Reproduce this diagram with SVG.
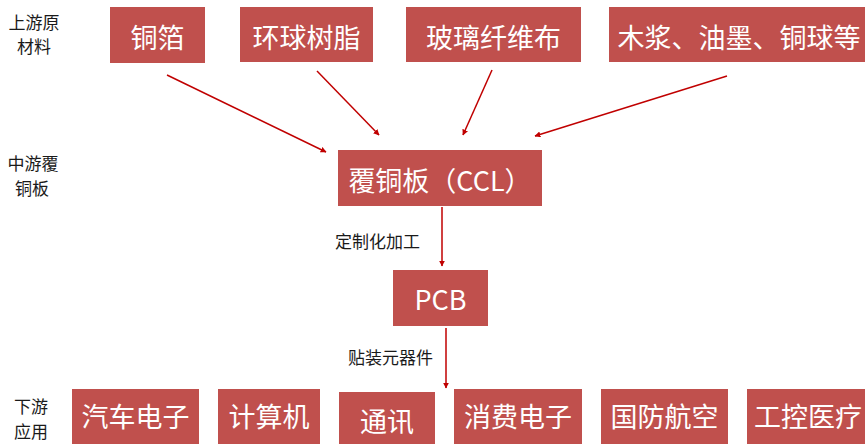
<svg xmlns="http://www.w3.org/2000/svg" width="865" height="444" viewBox="0 0 865 444">
<style>
.box{fill:#C0504D;}
.bt{fill:#ffffff;font-family:"Noto Sans CJK SC","Noto Sans",sans-serif;font-size:27px;text-anchor:middle;dominant-baseline:central;}
.lb{fill:#1a1a1a;font-family:"Noto Sans CJK SC","Noto Sans",sans-serif;font-size:17px;text-anchor:middle;dominant-baseline:central;}
.cl{fill:#1a1a1a;font-family:"Noto Sans CJK SC","Noto Sans",sans-serif;font-size:17px;dominant-baseline:central;}
.ar{stroke:#C00000;stroke-width:1.5;fill:none;marker-end:url(#ah);}
</style>
<defs>
<marker id="ah" viewBox="0 0 10 10" refX="9" refY="5" markerWidth="6" markerHeight="6" orient="auto" markerUnits="userSpaceOnUse">
<path d="M0,0 L10,5 L0,10 z" fill="#C00000"/>
</marker>
</defs>
<rect width="865" height="444" fill="#ffffff"/>
<g id="labels">
<text class="lb" x="34" y="21">上游原</text>
<text class="lb" x="34" y="45">材料</text>
<text class="lb" x="33" y="162">中游覆</text>
<text class="lb" x="32" y="187">铜板</text>
<text class="lb" x="31" y="405">下游</text>
<text class="lb" x="31" y="430">应用</text>
</g>
<g id="n-tongbo"><rect class="box" x="110" y="7" width="95" height="56"/><text class="bt" x="157.5" y="36">铜箔</text></g>
<g id="n-huanqiu"><rect class="box" x="240" y="7" width="133" height="55"/><text class="bt" x="306.5" y="36">环球树脂</text></g>
<g id="n-boli"><rect class="box" x="406" y="7" width="175" height="55"/><text class="bt" x="493.5" y="36">玻璃纤维布</text></g>
<g id="n-mujiang"><rect class="box" x="609" y="7" width="260" height="55"/><text class="bt" x="739" y="36">木浆、油墨、铜球等</text></g>
<g id="n-ccl"><rect class="box" x="338" y="150" width="204" height="56"/><text class="bt" x="440" y="179">覆铜板（CCL）</text></g>
<g id="n-pcb"><rect class="box" x="393" y="270" width="95" height="56"/><text class="bt" x="440.5" y="298">PCB</text></g>
<g id="n-qiche"><rect class="box" x="72" y="389" width="127" height="60"/><text class="bt" x="135.5" y="415">汽车电子</text></g>
<g id="n-jisuanji"><rect class="box" x="218" y="389" width="102" height="60"/><text class="bt" x="269" y="415">计算机</text></g>
<g id="n-tongxun"><rect class="box" x="339" y="392" width="96" height="60"/><text class="bt" x="387" y="420">通讯</text></g>
<g id="n-xiaofei"><rect class="box" x="454" y="389" width="128" height="60"/><text class="bt" x="518" y="415">消费电子</text></g>
<g id="n-guofang"><rect class="box" x="601" y="389" width="127" height="60"/><text class="bt" x="664.5" y="415">国防航空</text></g>
<g id="n-gongkong"><rect class="box" x="747" y="389" width="125" height="60"/><text class="bt" x="808" y="415">工控医疗</text></g>
<g id="connectors">
<line class="ar" x1="167" y1="75" x2="326" y2="152"/>
<line class="ar" x1="317" y1="71" x2="379" y2="135"/>
<line class="ar" x1="492" y1="70" x2="463" y2="135"/>
<line class="ar" x1="727" y1="76" x2="535" y2="136"/>
<line class="ar" x1="442" y1="207" x2="442" y2="266"/>
<line class="ar" x1="446" y1="328" x2="446" y2="388"/>
<text class="cl" x="335" y="240">定制化加工</text>
<text class="cl" x="348" y="356">贴装元器件</text>
</g>
</svg>
